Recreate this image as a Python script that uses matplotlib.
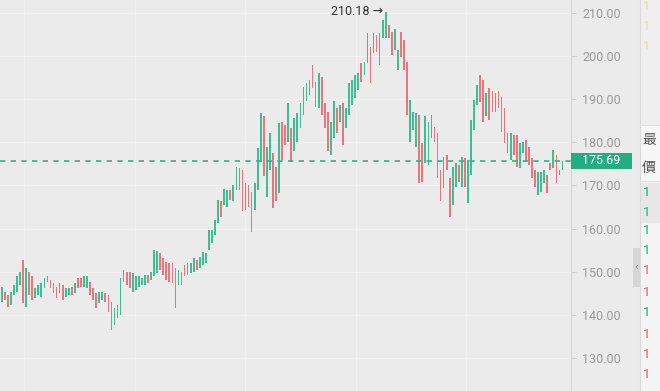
import matplotlib
matplotlib.use("Agg")
import matplotlib.pyplot as plt
from matplotlib.patches import Rectangle
from matplotlib.transforms import blended_transform_factory

# daily candles (open, close)
opens = [
    143.1, 145.4, 144.6, 142.3, 144.6, 145.4, 146.9, 152.7, 141.9, 150.0,
    148.9, 143.8, 144.6, 144.2, 146.2, 147.7, 148.1, 147.3, 146.5, 145.0,
    146.9, 144.2, 144.6, 146.5, 145.0, 148.5, 148.5, 146.5, 146.2, 147.7,
    146.2,
    145.0, 142.7, 143.5, 145.0, 144.6, 143.1, 137.7, 139.2, 140.0, 147.7,
    150.0, 150.0, 145.4, 145.8, 146.5, 146.9, 146.9, 149.3, 148.1, 148.9,
    149.6, 154.3, 153.1, 152.3, 152.0, 152.0, 150.8, 146.9, 146.9, 151.6,
    149.3, 149.6, 150.0,
    152.7, 150.8, 151.6, 152.0,
    155.1, 156.6, 158.5, 161.2, 166.3, 165.5, 165.1, 169.0, 166.3, 169.0,
    169.0, 173.6, 164.3, 170.1, 168.6, 164.3, 169.0, 175.5, 186.0, 167.4,
    173.6, 177.5, 174.4, 168.2, 184.8, 184.0,
    180.2, 183.3, 177.9, 180.2, 183.3, 186.4, 189.5, 191.0, 198.0, 194.1,
    187.9, 195.2, 189.1, 187.1, 177.1, 181.0, 187.9, 184.8, 189.1, 183.3,
    186.4, 188.7, 190.2, 192.2, 198.3, 195.6, 198.3, 202.2, 200.7, 204.9,
    198.0, 204.1, 204.1,
    207.2, 205.7, 201.4, 196.8, 205.7, 203.7, 198.7,
    180.2, 182.9, 179.0, 186.3, 179.8, 175.1, 174.8, 181.0, 183.6, 182.1,
    173.6, 169.4, 177.1, 171.7, 165.5, 169.7, 174.8, 169.7, 176.3, 165.9,
    172.4, 182.9,
    188.7, 195.6, 194.5, 186.0, 192.5, 191.8, 187.1, 191.8, 190.6, 187.9,
    177.5, 175.9, 181.7, 181.7, 174.0, 177.5, 180.6, 179.0, 176.3, 173.6,
    167.8, 168.6, 170.5, 172.4, 175.1, 174.0, 177.1, 172.4, 173.6,
]
closes = [
    146.5, 143.4, 141.9, 145.4, 146.9, 148.9, 150.0, 142.7, 150.8, 144.6,
    143.4, 146.2, 146.9, 147.3, 148.5, 149.1, 146.2, 145.0, 143.8, 147.3,
    143.4, 146.2, 146.2, 144.6, 147.3, 146.2, 146.5, 148.9, 148.9, 144.6,
    143.4,
    141.5, 145.4, 145.4, 143.1, 140.7, 136.5, 141.5, 142.3, 148.5, 150.4,
    146.9, 146.2, 149.6, 148.9, 148.9, 148.5, 149.3, 147.3, 150.0, 155.0,
    154.7, 150.4, 149.3, 148.1, 147.7, 147.3, 141.5, 150.4, 150.0, 148.9,
    152.0, 152.0, 153.1,
    150.4, 153.5, 154.6, 154.3,
    159.7, 159.7, 162.0, 166.6, 162.8, 169.3, 169.0, 166.6, 170.1, 174.4,
    174.0, 164.0, 170.5, 165.1, 159.3, 170.5, 178.6, 186.7, 172.1, 179.0,
    182.1, 164.7, 166.3, 184.4, 175.9, 179.4,
    189.1, 175.5, 185.6, 186.7, 189.1, 192.9, 193.7, 194.5, 192.5, 188.3,
    196.0, 186.4, 183.3, 177.9, 184.8, 189.5, 182.1, 188.7, 179.4, 187.9,
    193.7, 194.5, 195.6, 196.0, 194.1, 198.7, 205.3, 193.7, 205.3, 201.0,
    205.3, 208.4, 210.18,
    204.1, 200.3, 206.4, 201.4, 199.9, 196.8, 186.4,
    189.8, 187.1, 186.7, 170.5, 170.9, 186.0, 184.8, 186.3, 180.2, 171.7,
    166.3, 176.7, 173.6, 162.8, 174.4, 175.1, 170.9, 176.7, 169.7, 175.9,
    185.2, 189.8,
    193.3, 189.4, 184.8, 191.4, 185.2, 187.1, 191.4, 187.9, 182.5, 179.8,
    182.1, 182.1, 177.1, 174.4, 179.8, 180.2, 175.5, 174.8, 171.7, 169.7,
    173.2, 173.2, 173.6, 168.2, 173.6, 178.2, 170.5, 173.6, 175.69,
]
price_ticks = [130, 140, 150, 160, 170, 180, 190, 200, 210]
last_price = 175.69
peak_price = 210.18

# side panel: colours of the truncated price column
panel_rows_y = [193, 212, 231, 250, 271, 292, 313, 334, 354, 375]
panel_rows_up = [True, True, True, True, False, False, True, False, False, False]

GREEN = "#3fbe95"
RED = "#e37880"
BOX_GREEN = "#23ad80"
BG = "#ebebeb"
GRID = "#f1f1f1"

W, H = 660, 391
fig = plt.figure(figsize=(W / 100, H / 100), dpi=100)
fig.patch.set_facecolor(BG)

ax = fig.add_axes([0, 0, 571 / W, 1])
ax.set_facecolor(BG)

n = len(opens)
x = list(range(n))
bottoms = [min(o, c) for o, c in zip(opens, closes)]
heights = [max(abs(c - o), 0.3) for o, c in zip(opens, closes)]
colors = [GREEN if c >= o else RED for o, c in zip(opens, closes)]
ax.bar(x, heights, bottom=bottoms, width=0.56, color=colors, linewidth=0, zorder=3)

ax.set_xlim(-0.56, 186.8)
ax.set_ylim(122.35, 213.01)

for p in price_ticks:
    ax.axhline(p, color=GRID, lw=0.9, zorder=1)
for gx in [7.3, 43.6, 79.8, 116.1, 152.4]:
    ax.axvline(gx, color=GRID, lw=0.9, zorder=1)

ax.axhline(last_price, color="#2fb487", lw=1.2, ls=(0, (3.2, 3.2)), zorder=4)

# right price axis
ax.yaxis.tick_right()
ax.set_yticks(price_ticks)
ax.set_yticklabels([f"{p:.2f}" for p in price_ticks])
ax.tick_params(axis="y", length=3.6, width=0.8, color="#cfcfcf", pad=4.5,
               labelsize=9, labelcolor="#9a9a9a")
for lab in ax.get_yticklabels():
    lab.set_fontfamily(["Roboto", "DejaVu Sans"])
ax.set_xticks([])
for s in ["top", "left", "bottom"]:
    ax.spines[s].set_visible(False)
ax.spines["right"].set_color("#d6d6d6")
ax.spines["right"].set_linewidth(0.8)

# last price tag
blend = blended_transform_factory(fig.transFigure, ax.transData)
ax.add_patch(Rectangle((571 / W, last_price - 1.95), 61 / W, 3.9, transform=blend,
                       facecolor=BOX_GREEN, edgecolor="none", clip_on=False, zorder=6))
ax.text(601.5 / W, last_price, f"{last_price:.2f}", transform=blend, ha="center",
        va="center", color="white", fontsize=9, family=["Roboto", "DejaVu Sans"],
        zorder=7, clip_on=False)

# peak marker
peak_i = closes.index(peak_price)
ax.annotate(f"{peak_price:.2f} \u2192", xy=(peak_i, peak_price), xytext=(-3, 1),
            textcoords="offset pixels", ha="right", va="center", fontsize=9,
            color="#333333", family=["Roboto", "DejaVu Sans"], zorder=7)

# decorations on the right (panel, collapse tab)
deco = fig.add_axes([0, 0, 1, 1], zorder=10)
deco.set_xlim(0, W)
deco.set_ylim(H, 0)
deco.axis("off")
deco.patch.set_alpha(0)

deco.add_patch(Rectangle((640, 0), 20, 125, facecolor="#efefef", edgecolor="none"))
deco.add_patch(Rectangle((640, 125), 20, 56, facecolor="#f6f6f6", edgecolor="none"))
deco.add_patch(Rectangle((640, 181), 20, 210, facecolor="#f4f4f4", edgecolor="none"))
deco.add_patch(Rectangle((640, 183), 20, 40, facecolor="#e7e7e7", edgecolor="none"))
deco.plot([640, 640], [0, H], color="#dadada", lw=0.8)
deco.plot([640, 660], [125, 125], color="#e0e0e0", lw=0.8)
deco.plot([640, 660], [181, 181], color="#e0e0e0", lw=0.8)
for ty in [6, 26, 46]:
    deco.text(643, ty, "1", color="#e6dcb8", fontsize=9.5, va="center", ha="left",
              family=["Roboto", "DejaVu Sans"])
deco.text(642, 140, "最", color="#555555", fontsize=10, va="center", ha="left",
          family=["Noto Sans CJK TC", "DejaVu Sans"])
deco.text(642, 168, "價", color="#555555", fontsize=10, va="center", ha="left",
          family=["Noto Sans CJK TC", "DejaVu Sans"])
for ty, up in zip(panel_rows_y, panel_rows_up):
    deco.text(643, ty, "1", color="#2aa97c" if up else "#e0606c", fontsize=9.5,
              va="center", ha="left", family=["Roboto", "DejaVu Sans"])

deco.add_patch(Rectangle((633, 248), 7, 39, facecolor="#d6d6d6", edgecolor="none"))
deco.text(636.5, 267, "\u2039", color="#8a8a8a", fontsize=7, ha="center", va="center")

fig.savefig("out.png", dpi=100, facecolor=fig.get_facecolor())
